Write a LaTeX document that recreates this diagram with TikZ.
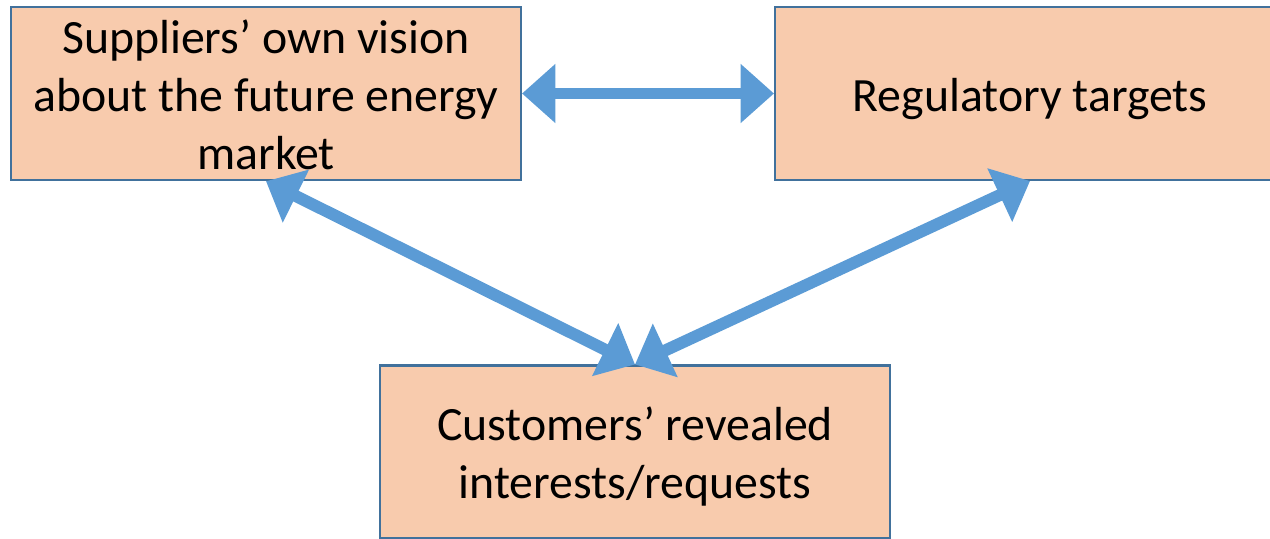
\documentclass[tikz,border=0pt]{standalone}
\usepackage{fontspec}
\setmainfont{Carlito}
\usetikzlibrary{arrows.meta}
\definecolor{boxfill}{HTML}{F8CBAD}
\definecolor{boxline}{HTML}{41719C}
\definecolor{arrowblue}{HTML}{5B9BD5}
\newcommand{\lowtext}[2]{\raisebox{-#1}[\height][\depth]{\begin{tabular}{@{}c@{}}#2\end{tabular}}}
\begin{document}
\begin{tikzpicture}[x=0.02cm,y=-0.02cm,
  box/.style={draw=boxline, fill=boxfill, line width=1.2pt, minimum width=10.2cm, minimum height=3.46cm, align=center, inner sep=0pt, font=\fontsize{27.2pt}{32.9pt}\selectfont},
  bigarrow/.style={draw=arrowblue, line width=6.8pt, {Triangle[length=19pt,width=32.5pt]}-{Triangle[length=19pt,width=32.5pt]}}]
\useasboundingbox (0,0) rectangle (1270,538);
\node[box] (A) at (266,93.5) {\lowtext{0.13cm}{Suppliers’ own vision\\about the future energy\\market}};
\node[box] (B) at (1030,93.5) {\lowtext{0.13cm}{Regulatory targets}};
\node[box] (C) at (635,452) {\lowtext{0.12cm}{Customers’ revealed\\interests/requests}};
\draw[bigarrow] (A.east) -- (B.west);
\draw[bigarrow] (A.south) -- (C.north);
\draw[bigarrow] (B.south) -- (C.north);
\end{tikzpicture}
\end{document}
